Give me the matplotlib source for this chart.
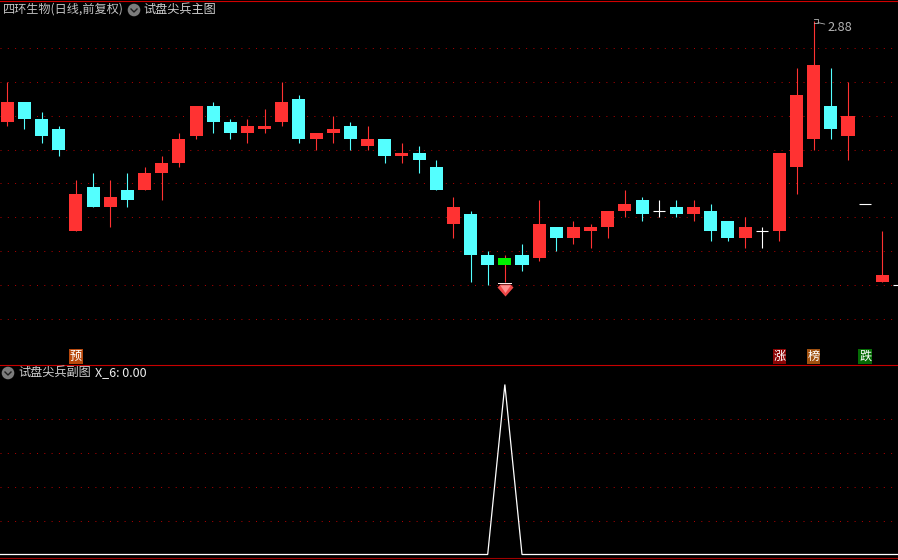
import matplotlib
matplotlib.use("Agg")
import matplotlib.pyplot as plt
import numpy as np
from matplotlib.lines import Line2D
from matplotlib.patches import Circle
from matplotlib.path import Path

plt.rcParams['font.family'] = ['Noto Sans CJK SC', 'DejaVu Sans']

# --- data -------------------------------------------------------------
opens = [2.58,2.64,2.59,2.56,2.26,2.39,2.33,2.38,2.38,2.43,2.46,2.54,2.63,2.58,2.55,2.56,2.58,2.65,
         2.53,2.55,2.57,2.51,2.53,2.48,2.49,2.45,2.28,2.31,2.19,2.18,2.19,2.18,2.27,2.24,2.26,2.27,
         2.32,2.35,2.32,2.33,2.31,2.32,2.29,2.24,2.26,2.26,2.45,2.53,2.63,2.54,2.34,2.11,2.10]
closes = [2.64,2.59,2.54,2.50,2.37,2.33,2.36,2.35,2.43,2.46,2.53,2.63,2.58,2.55,2.57,2.57,2.64,2.53,
          2.55,2.56,2.53,2.53,2.48,2.49,2.47,2.38,2.33,2.19,2.16,2.16,2.16,2.28,2.24,2.27,2.27,2.32,
          2.34,2.31,2.32,2.31,2.33,2.26,2.24,2.27,2.26,2.49,2.66,2.75,2.56,2.60,2.34,2.13,2.10]
highs = [2.70,2.64,2.61,2.57,2.41,2.43,2.41,2.43,2.45,2.48,2.55,2.63,2.64,2.59,2.59,2.62,2.70,2.66,
         2.55,2.60,2.58,2.57,2.53,2.52,2.51,2.47,2.36,2.32,2.20,2.19,2.22,2.35,2.27,2.29,2.28,2.32,
         2.38,2.36,2.35,2.35,2.35,2.34,2.29,2.30,2.27,2.49,2.74,2.88,2.74,2.70,2.34,2.26,2.10]
lows = [2.57,2.56,2.52,2.48,2.26,2.33,2.27,2.33,2.38,2.35,2.45,2.53,2.55,2.53,2.52,2.55,2.57,2.52,
        2.50,2.52,2.50,2.50,2.46,2.46,2.43,2.38,2.24,2.11,2.10,2.11,2.14,2.17,2.20,2.22,2.21,2.24,
        2.30,2.29,2.30,2.30,2.29,2.23,2.23,2.21,2.21,2.23,2.37,2.50,2.53,2.47,2.34,2.11,2.10]
signal_index = [-1, 28, 29, 30, 53]
signal_values = [0, 0, 1, 0, 0]
price_grid = [2.8, 2.7, 2.6, 2.5, 2.4, 2.3, 2.2, 2.1, 2.0]
signal_grid = [0.2, 0.4, 0.6, 0.8]
green_bar = 29
gem_bar = 29
gem_price = 2.085
peak_bar = 47
peak_label = "2.88"
tag_bars = [4, 45, 47, 50]
tag_texts = ["预", "涨", "榜", "跌"]
tag_colors = ["#B8480C", "#8B0505", "#A0500F", "#056B05"]

# --- styles -----------------------------------------------------------
W, H = 898, 560
RED, CYAN, GREEN, WHITE = "#FF3232", "#54FFFF", "#00F000", "#FFFFFF"
GRID = "#B00000"
FS = 8.75

fig = plt.figure(figsize=(W/100, H/100), dpi=100, facecolor="black")

def px_axes(top, bottom):
    return fig.add_axes([0, 1-bottom/H, 1, (bottom-top)/H], facecolor="black")

def style(ax, ticks):
    for s in ax.spines.values():
        s.set_visible(False)
    ax.set_xticks([])
    ax.set_yticks(ticks)
    ax.tick_params(left=False, labelleft=False)
    ax.set_axisbelow(True)
    ax.grid(axis="y", color=GRID, lw=0.72, ls=(0, (1.0, 6.3)), dash_capstyle="butt")

bars_x = np.arange(len(opens))
x_left = -7.3/17.157
x_right = x_left + W/17.157

# --- price panel ------------------------------------------------------
ax = px_axes(1, 364)
ax.set_xlim(x_left, x_right)
ax.set_ylim(2.80-(364-48)/338.6, 2.80+(48-1)/338.6)
style(ax, price_grid)

for i in bars_x:
    o, c, h, l = opens[i], closes[i], highs[i], lows[i]
    if c == o:
        col = WHITE
    elif c > o:
        col = RED
    else:
        col = CYAN
    if i == green_bar:
        col = GREEN
    ax.vlines(i, l, h, color=col if i != green_bar else RED, lw=0.8, zorder=2)
    if c == o:
        ax.hlines(c, i-0.35, i+0.35, color=col, lw=0.8, zorder=3)
    else:
        ax.bar(i, abs(c-o), bottom=min(c, o), width=0.76, color=col, lw=0, antialiased=False, zorder=3)

# gem marker
outer = Path([(-8,3),(-5,6),(5,6),(8,3),(0,-6),(-8,3)], closed=True)
inner = Path([(-4.5,3.5),(4.5,3.5),(0,-3),(-4.5,3.5)], closed=True)
top_band = Path([(-6,2.6),(6,2.6),(6,3.4),(-6,3.4),(-6,2.6)], closed=True)
ax.scatter([gem_bar], [gem_price], marker=outer, s=133, color="#F04848", lw=0, zorder=5)
ax.scatter([gem_bar], [gem_price+0.002], marker=inner, s=58, color="#FF9090", lw=0, zorder=6)
ax.scatter([gem_bar], [gem_price+0.009], marker=top_band, s=90, color="#FFE8E8", lw=0, zorder=7)

# peak annotation
ax.annotate(peak_label, xy=(peak_bar+0.25, max(highs)-0.005), xytext=(6.9, -3.5),
            textcoords="offset points", color="#B4B4B4", fontsize=9.2, va="center", ha="left",
            arrowprops=dict(arrowstyle="-", color="#B4B4B4", lw=0.6, shrinkA=0, shrinkB=0))
ax.plot([peak_bar, peak_bar+0.25, peak_bar+0.25, peak_bar], [2.885, 2.885, 2.875, 2.875],
        color="#B4B4B4", lw=0.6, zorder=6)

# tags
for b, t, c in zip(tag_bars, tag_texts, tag_colors):
    ax.text(b, 2.80-(356.5-48)/338.6, t, color="white", fontsize=FS, ha="center", va="center",
            bbox=dict(boxstyle="square,pad=0.06", fc=c, ec="none"), zorder=8)

# --- signal panel -----------------------------------------------------
ax2 = px_axes(365, 558)
ax2.set_xlim(x_left, x_right)
ax2.set_ylim(-3.5/170, 1+19.5/170)
style(ax2, signal_grid)
ax2.plot(signal_index, signal_values, color=WHITE, lw=0.9, solid_joinstyle="miter", zorder=3)

# --- frame lines, captions, icons -------------------------------------
def hline(y, color, lw=0.8):
    fig.add_artist(Line2D([0, 1], [1-y/H, 1-y/H], color=color, lw=lw))

hline(0.5, "#D00000")
hline(364.5, "#C80000")
hline(557.5, "#A00000")

def caption(x, y, s, color, size=FS):
    fig.text(x/W, 1-y/H, s, color=color, fontsize=size, ha="left", va="center")

def icon(x, y):
    fig.add_artist(Circle((x, H-y), 6.3, transform=None, fc="#7C7C7C", ec="none"))
    fig.add_artist(Line2D([x-3, x, x+3], [H-y+1, H-y-2, H-y+1], transform=None, color="#1E1E1E", lw=1.0))

caption(3, 9.5, "四环生物(日线,前复权)", "#C4C4C4")
icon(134, 10)
caption(143, 9.5, "试盘尖兵主图", "#D0D0D0")
icon(8, 373)
caption(18, 372.5, "试盘尖兵副图", "#D0D0D0")
caption(95, 372.5, "X_6: 0.00", "#EEEEEE", 9.0)

fig.savefig("out.png", dpi=100, facecolor="black")
